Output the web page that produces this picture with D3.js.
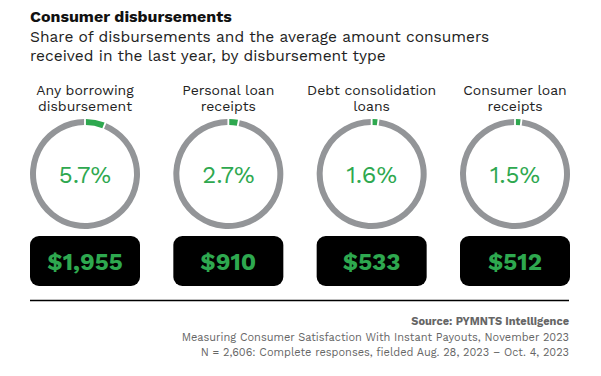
<!DOCTYPE html>
<html>
<head>
<meta charset="utf-8">
<script src="https://cdn.jsdelivr.net/npm/d3@7"></script>
<style>
    body { margin: 0; background: #fff; }
    text { font-family: "Work Sans", "Roboto", "Open Sans", sans-serif; }
</style>
</head>
<body>
<div id="chart"></div>
<script>
// chart data
const categories = [["Any borrowing", "disbursement"], ["Personal loan", "receipts"], ["Debt consolidation", "loans"], ["Consumer loan", "receipts"]];
const shares = [5.7, 2.7, 1.6, 1.5];
const amounts = [1955, 910, 533, 512];

const width = 601, height = 376;
const green = "#2ea84f", gray = "#939598";

const svg = d3.select("#chart").append("svg")
    .attr("width", width)
    .attr("height", height);

// title block
svg.append("text")
    .attr("x", 30).attr("y", 22)
    .attr("font-size", 16).attr("font-weight", 700)
    .attr("fill", "#111")
    .text("Consumer disbursements");

["Share of disbursements and the average amount consumers", "received in the last year, by disbursement type"]
    .forEach((t, i) => {
        svg.append("text")
            .attr("x", 30).attr("y", 42 + i * 18.5)
            .attr("font-size", 15.5)
            .attr("fill", "#222")
            .text(t);
    });

// one column per category
const x = d3.scalePoint()
    .domain(d3.range(categories.length))
    .range([85, 515]);

const ringY = 174, outerR = 55, ringW = 6;
const pie = d3.pie().sort(null).padAngle(0.025);
const arc = d3.arc().innerRadius(outerR - ringW).outerRadius(outerR);

const cols = svg.selectAll(".col")
    .data(shares)
    .join("g")
    .attr("class", "col")
    .attr("transform", (d, i) => `translate(${x(i)},0)`);

cols.each(function (d, i) {
    const g = d3.select(this);

    categories[i].forEach((t, j) => {
        g.append("text")
            .attr("y", 95 + j * 16)
            .attr("text-anchor", "middle")
            .attr("font-size", 14)
            .attr("fill", "#222")
            .text(t);
    });

    const ring = g.append("g").attr("transform", `translate(0,${ringY})`);
    ring.selectAll("path")
        .data(pie([d, 100 - d]))
        .join("path")
        .attr("d", arc)
        .attr("fill", (p, k) => k === 0 ? green : gray);

    ring.append("text")
        .attr("y", 8.5)
        .attr("text-anchor", "middle")
        .attr("font-size", 24)
        .attr("fill", green)
        .text(d3.format(".1f")(d) + "%");

    g.append("rect")
        .attr("x", -55).attr("y", 236)
        .attr("width", 110).attr("height", 50)
        .attr("rx", 9)
        .attr("fill", "#000");

    g.append("text")
        .attr("y", 270)
        .attr("text-anchor", "middle")
        .attr("font-size", 24)
        .attr("font-weight", 700)
        .attr("fill", green)
        .text(d3.format("$,")(amounts[i]));
});

// footer
svg.append("line")
    .attr("x1", 30).attr("x2", 569)
    .attr("y1", 300.5).attr("y2", 300.5)
    .attr("stroke", "#000").attr("stroke-width", 1.5);

const notes = [
    {t: "Source: PYMNTS Intelligence", b: 700},
    {t: "Measuring Consumer Satisfaction With Instant Payouts, November 2023", b: 400},
    {t: "N = 2,606: Complete responses, fielded Aug. 28, 2023 \u2013 Oct. 4, 2023", b: 400}
];
svg.selectAll(".note")
    .data(notes)
    .join("text")
    .attr("class", "note")
    .attr("x", 569)
    .attr("y", (d, i) => 325 + i * 15.5)
    .attr("text-anchor", "end")
    .attr("font-size", 11)
    .attr("font-weight", d => d.b)
    .attr("fill", "#666")
    .text(d => d.t);
</script>
</body>
</html>
